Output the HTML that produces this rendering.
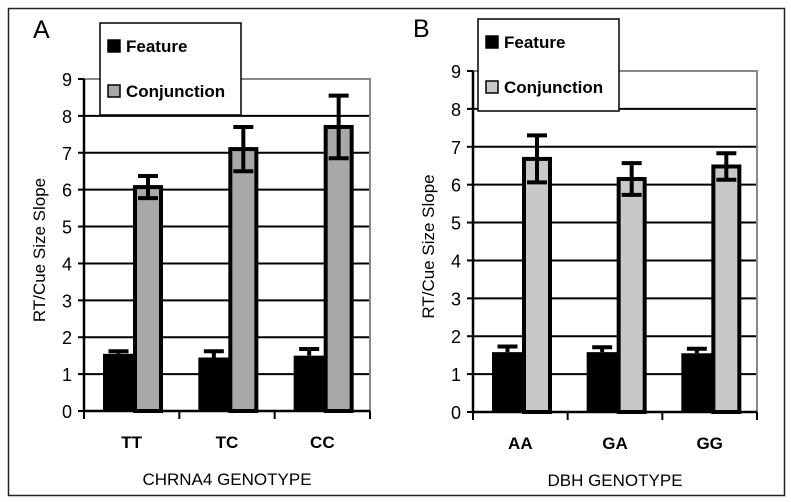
<!DOCTYPE html>
<html><head><meta charset="utf-8">
<style>
html,body{margin:0;padding:0;background:#fff;}
svg{display:block;font-family:"Liberation Sans",Arial,sans-serif;}
</style></head>
<body>
<svg id="fig" width="791" height="502" viewBox="0 0 791 502">
<rect x="8.5" y="8.5" width="776" height="487" fill="none" stroke="#222" stroke-width="1.5"/>
</svg>
<script>
const categoriesA = ["TT","TC","CC"];
const featureA = [1.55,1.45,1.5];
const featureErrA = [0.07,0.17,0.18];
const conjA = [6.07,7.1,7.7];
const conjErrA = [0.3,0.6,0.85];
const categoriesB = ["AA","GA","GG"];
const featureB = [1.58,1.58,1.55];
const featureErrB = [0.15,0.13,0.12];
const conjB = [6.68,6.15,6.48];
const conjErrB = [0.62,0.42,0.35];
const yTicks = [0,1,2,3,4,5,6,7,8,9];

const NS="http://www.w3.org/2000/svg";
const svg=document.getElementById('fig');
function mk(tag,attrs,parent){const e=document.createElementNS(NS,tag);for(const k in attrs)e.setAttribute(k,attrs[k]);(parent||svg).appendChild(e);return e;}

function panel(o){
  const g=mk('g',{});
  
  
  const y=v=>o.y0-(v/9)*(o.y0-o.y9);
  const catW=(o.x1-o.x0)/o.cats.length;
  yTicks.forEach(t=>{
    if(t===0||t===9)return;
    const l=mk('line',{x1:o.x0,x2:o.x1,y1:y(t),y2:y(t),stroke:'#000','stroke-width':2},g);
    
    
  });
  const top=mk('path',{d:`M${o.x0} ${y(9)}H${o.x1}V${o.y0}`,fill:'none',stroke:'#888','stroke-width':2},g);
  
  
  o.cats.forEach((c,i)=>{
    const gx=o.x0+i*catW;
    const fx=gx+19, fw=31, cx=fx+31, cw=28;
    const fb=mk('rect',{x:fx,y:y(o.feat[i]),width:fw,height:y(0)-y(o.feat[i]),fill:'#000'},g);
    
    
    const fe=o.feat[i]+o.featErr[i];
    const fl=mk('path',{d:`M${fx+fw/2} ${y(o.feat[i])}V${y(fe)}M${fx+fw/2-10} ${y(fe)}H${fx+fw/2+10}`,stroke:'#000','stroke-width':4,fill:'none'},g);
    
    
    const cb=mk('rect',{x:cx+1,y:y(o.conj[i]),width:cw-2,height:y(0)-y(o.conj[i]),fill:o.conjFill,stroke:'#000','stroke-width':4},g);
    
    
    const hi=o.conj[i]+o.conjErr[i], lo=o.conj[i]-o.conjErr[i], mx=cx+cw/2;
    const cl=mk('path',{d:`M${mx} ${y(lo)}V${y(hi)}M${mx-10} ${y(hi)}H${mx+10}M${mx-10} ${y(lo)}H${mx+10}`,stroke:'#000','stroke-width':4,fill:'none'},g);
    
    
    const lt=mk('text',{x:gx+catW/2,y:o.y0+37,'text-anchor':'middle','font-size':17,'font-weight':'bold'},g);
    lt.textContent=c;
    
    
  });
  const ax=mk('path',{d:`M${o.x0} ${y(9)}V${o.y0}H${o.x1}`,fill:'none',stroke:'#000','stroke-width':2.5},g);
  
  
  for(let i=0;i<=o.cats.length;i++){
    const tx=o.x0+i*catW;
    const tk=mk('line',{x1:tx,x2:tx,y1:o.y0,y2:o.y0+8,stroke:'#000','stroke-width':2},g);
    
    
  }
  yTicks.forEach(t=>{
    const tk=mk('line',{x1:o.x0-6,x2:o.x0,y1:y(t),y2:y(t),stroke:'#000','stroke-width':2},g);
    
    
    const tl=mk('text',{x:o.x0-12,y:y(t)+7,'text-anchor':'end','font-size':18},g);
    tl.textContent=t;
    
    
  });
  const yt=mk('text',{x:0,y:0,transform:`translate(${o.x0-39},${(o.y0+y(9))/2+5}) rotate(-90)`,'text-anchor':'middle','font-size':17},g);
  yt.textContent='RT/Cue Size Slope';
  
  
  const xt=mk('text',{x:(o.x0+o.x1)/2,y:o.y0+74,'text-anchor':'middle','font-size':17},g);
  xt.textContent=o.xTitle;
  
  
  const pl=mk('text',{x:o.letterX,y:o.letterY,'font-size':25},g);
  pl.textContent=o.letter;
  
  
  const lg=mk('g',{},g);
  
  
  mk('rect',{x:o.lx,y:o.ly,width:141,height:92,fill:'#fff',stroke:'#000','stroke-width':1.5},lg);
  [['Feature','#000',o.ly+23],['Conjunction',o.conjFill,o.ly+68]].forEach(([n,f,yy])=>{
    const s=mk('rect',{x:o.lx+8,y:yy-6,width:12,height:12,fill:f,stroke:'#000','stroke-width':1.5},lg);
    
    
    const t=mk('text',{x:o.lx+26,y:yy+6,'font-size':17,'font-weight':'bold'},lg);
    t.textContent=n;
    
    
  });
}
panel({letter:'A',letterX:33,letterY:38,x0:84,x1:370,y0:411,y9:79,cats:categoriesA,feat:featureA,featErr:featureErrA,conj:conjA,conjErr:conjErrA,conjFill:'#a8a8a8',xTitle:'CHRNA4 GENOTYPE',lx:100,ly:23});
panel({letter:'B',letterX:413,letterY:37,x0:473,x1:757,y0:412,y9:71,cats:categoriesB,feat:featureB,featErr:featureErrB,conj:conjB,conjErr:conjErrB,conjFill:'#c8c8c8',xTitle:'DBH GENOTYPE',lx:478,ly:19});
</script>
</body></html>
